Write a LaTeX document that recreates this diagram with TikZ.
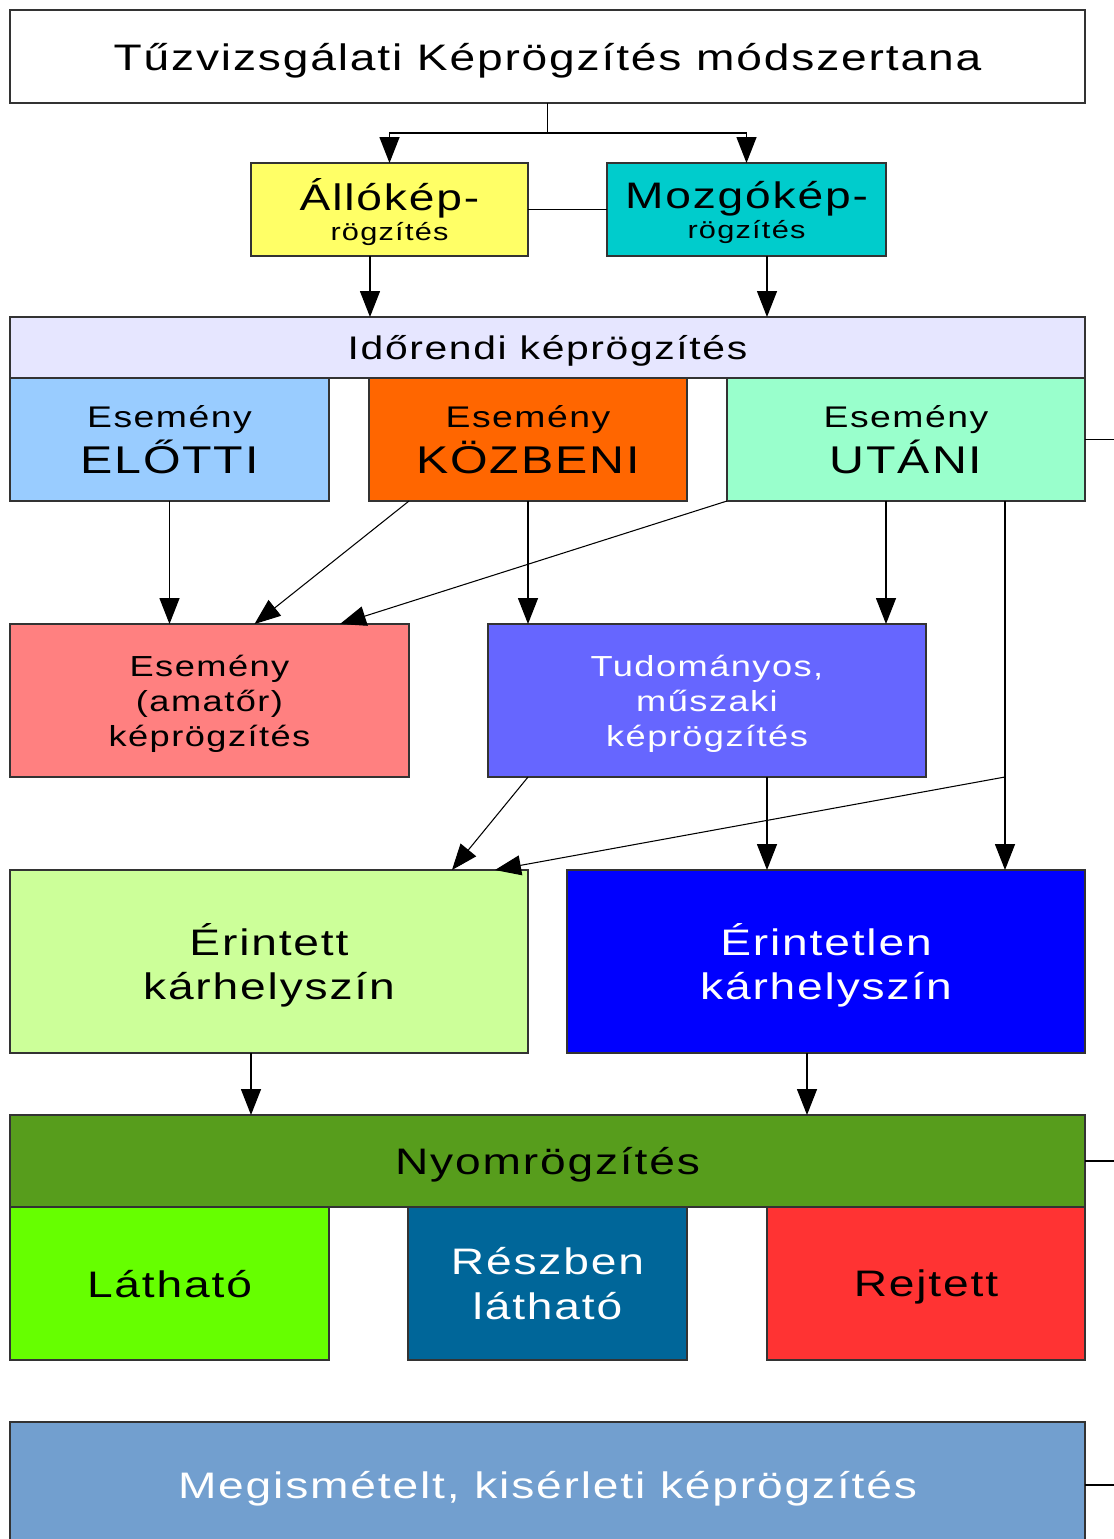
\documentclass[tikz,border=0pt]{standalone}
\usepackage{fontspec}
\setmainfont[LetterSpace=5,FakeStretch=1.25]{Liberation Sans}
\usepackage{xcolor}
\usepackage{tikz}
\usetikzlibrary{arrows.meta}
\usetikzlibrary{calc}
\usetikzlibrary{positioning}

\definecolor{allosarga}{HTML}{FFFF66}
\definecolor{mozgokek}{HTML}{00CCCC}
\definecolor{idolila}{HTML}{E6E6FF}
\definecolor{elottikek}{HTML}{99CCFF}
\definecolor{kozbeninarancs}{HTML}{FF6600}
\definecolor{utanizold}{HTML}{99FFCC}
\definecolor{amatorpiros}{HTML}{FF8080}
\definecolor{tudomanyoslila}{HTML}{6666FF}
\definecolor{erintettzold}{HTML}{CCFF99}
\definecolor{erintetlenkek}{HTML}{0000FF}
\definecolor{nyomzold}{HTML}{579D1C}
\definecolor{lathatozold}{HTML}{66FF00}
\definecolor{reszbenkek}{HTML}{006699}
\definecolor{rejtettpiros}{HTML}{FF3333}
\definecolor{megismkek}{HTML}{729FCF}

\newcommand{\nagybetu}{\fontsize{21}{25.5}\selectfont}
\newcommand{\idobetu}{\fontsize{18.6}{22}\selectfont}
\newcommand{\kozepbetu}{\fontsize{16.5}{20}\selectfont}
\newcommand{\esemenybetu}{\fontsize{17}{26}\selectfont}
\newcommand{\fazisbetu}{\fontsize{22}{26}\selectfont}
\newcommand{\kisbetu}{\fontsize{14}{17}\selectfont}

\begin{document}
\begin{tikzpicture}[>={Triangle[length=0.52cm,width=0.4cm]}, line width=0.8pt, x=0.02cm, y=-0.02cm]
  \tikzstyle{doboz}=[draw=black!80, rectangle, inner sep=0pt, outer sep=0pt, align=center, line width=0.85pt, text depth=0pt]
  \tikzstyle{vekony}=[line width=0.6pt]
  \useasboundingbox (0,0) rectangle (1114,1539);

  % felso szint
  \node[doboz, fill=white, minimum width=21.5cm, minimum height=1.86cm, font=\nagybetu] (cim) at (547.5,56.5) {Tűzvizsgálati Képrögzítés módszertana};
  \node[doboz, fill=allosarga, minimum width=5.54cm, minimum height=1.86cm, font=\kisbetu] (allo) at (389.5,209.5) {{\nagybetu Állókép-}\\rögzítés};
  \node[doboz, fill=mozgokek, minimum width=5.58cm, minimum height=1.86cm, font=\kisbetu] (mozgo) at (746.5,209.5) {{\nagybetu Mozgókép-}\\rögzítés};

  % idorend
  \node[doboz, fill=idolila, minimum width=21.5cm, minimum height=1.22cm, font=\idobetu] (idorend) at (547.5,347.5) {Időrendi képrögzítés};
  \node[doboz, fill=elottikek, minimum width=6.38cm, minimum height=2.46cm, font=\fazisbetu] (elotti) at (169.5,439.5) {{\esemenybetu Esemény}\\ELŐTTI};
  \node[doboz, fill=kozbeninarancs, minimum width=6.36cm, minimum height=2.46cm, font=\fazisbetu] (kozbeni) at (528,439.5) {{\esemenybetu Esemény}\\KÖZBENI};
  \node[doboz, fill=utanizold, minimum width=7.16cm, minimum height=2.46cm, font=\fazisbetu] (utani) at (906,439.5) {{\esemenybetu Esemény}\\UTÁNI};

  % kepfajtak
  \node[doboz, fill=amatorpiros, minimum width=7.98cm, minimum height=3.06cm, font=\kozepbetu] (amator) at (209.5,700.5) {Esemény\\(amatőr)\\képrögzítés};
  \node[doboz, fill=tudomanyoslila, minimum width=8.76cm, minimum height=3.06cm, font=\kozepbetu, text=white] (tudomanyos) at (707,700.5) {Tudományos,\\műszaki\\képrögzítés};

  % karhelyszin
  \node[doboz, fill=erintettzold, minimum width=10.36cm, minimum height=3.66cm, font=\nagybetu] (erintett) at (269,961.5) {Érintett\\kárhelyszín};
  \node[doboz, fill=erintetlenkek, minimum width=10.36cm, minimum height=3.66cm, font=\nagybetu, text=white] (erintetlen) at (826,961.5) {Érintetlen\\kárhelyszín};

  % nyomrogzites
  \node[doboz, fill=nyomzold, minimum width=21.5cm, minimum height=1.84cm, font=\nagybetu] (nyom) at (547.5,1161) {Nyomrögzítés};
  \node[doboz, fill=lathatozold, minimum width=6.38cm, minimum height=3.06cm, font=\nagybetu] (lathato) at (169.5,1283.5) {Látható};
  \node[doboz, fill=reszbenkek, minimum width=5.58cm, minimum height=3.06cm, font=\nagybetu, text=white] (reszben) at (547.5,1283.5) {Részben\\látható};
  \node[doboz, fill=rejtettpiros, minimum width=6.36cm, minimum height=3.06cm, font=\nagybetu] (rejtett) at (926,1283.5) {Rejtett};

  \node[doboz, fill=megismkek, minimum width=21.5cm, minimum height=2.52cm, font=\nagybetu, text=white] (megism) at (547.5,1485) {Megismételt, kisérleti képrögzítés};

  % fuggoleges savok
  \coordinate (savA) at (370,0);
  \coordinate (savB) at (767,0);
  \coordinate (savC) at (886,0);
  \coordinate (savD) at (1005,0);
  \coordinate (savE) at (251,0);
  \coordinate (savF) at (807,0);
  \coordinate (jobbszel) at (1114,0);
  \coordinate (leagazas) at (tudomanyos.south -| savD);

  \draw (cim.south) -- ++(0,30) coordinate (elagazas);
  \draw[->] (elagazas) -| (allo.north);
  \draw[->] (elagazas) -| (mozgo.north);
  \path
    (allo.east) edge (mozgo.west)
    (utani.east) edge (utani.east -| jobbszel)
    (nyom.east) edge (nyom.east -| jobbszel)
    (megism.east) edge (megism.east -| jobbszel);
  \path[->]
    (allo.south -| savA) edge (idorend.north -| savA)
    (mozgo.south -| savB) edge (idorend.north -| savB)
    (elotti.south) edge (elotti.south |- amator.north)
    ($(kozbeni.south west)+(40,0)$) edge[vekony] ($(amator.north)+(45,0)$)
    (utani.south west) edge[vekony] ($(amator.north east)+(-69,0)$)
    (kozbeni.south) edge (kozbeni.south |- tudomanyos.north)
    (utani.south -| savC) edge (tudomanyos.north -| savC)
    (utani.south -| savD) edge (erintetlen.north -| savD)
    ($(tudomanyos.south west)+(40,0)$) edge[vekony] ($(erintett.north east)+(-76,0)$)
    (leagazas) edge[vekony] ($(erintett.north east)+(-33,0)$)
    (tudomanyos.south -| savB) edge (erintetlen.north -| savB)
    (erintett.south -| savE) edge (nyom.north -| savE)
    (erintetlen.south -| savF) edge (nyom.north -| savF);
\end{tikzpicture}
\end{document}
